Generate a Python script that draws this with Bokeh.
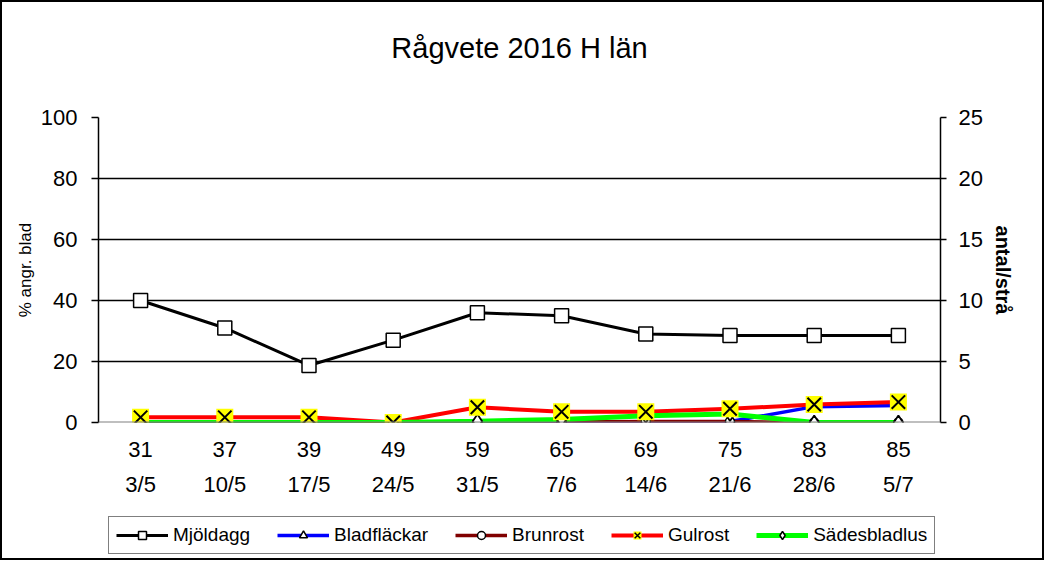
from bokeh.plotting import figure
from bokeh.layouts import column
from bokeh.models import (FactorRange, Range1d, LinearAxis, CategoricalAxis,
                          FixedTicker, Span, Legend, LegendItem, Title)
from bokeh.embed import file_html
from bokeh.resources import INLINE

stages = ["31", "37", "39", "49", "59", "65", "69", "75", "83", "85"]
dates = ["3/5", "10/5", "17/5", "24/5", "31/5", "7/6", "14/6", "21/6", "28/6", "5/7"]
mjoldagg = [40, 31, 18.7, 27, 36, 35, 29, 28.5, 28.5, 28.5]
bladflackar = [0, 0, 0, 0, 0, 0, 0, 0.3, 5.2, 5.6]
brunrost = [0, 0, 0, 0, 0, 0.2, 0.3, 0.3, 0, 0]
gulrost = [1.7, 1.7, 1.7, 0, 5, 3.5, 3.5, 4.5, 5.9, 6.7]
sadesbladlus = [0, 0, 0, 0, 0.1, 0.25, 0.55, 0.7, 0, 0]  # antal/strå (right axis)
series_names = ["Mjöldagg", "Bladfläckar", "Brunrost", "Gulrost", "Sädesbladlus"]
chart_title = "Rågvete 2016 H län"

FONT = "Liberation Sans"
BORDER = "2px solid black"

# title strip (separate figure on top)
pt = figure(width=1044, height=90, x_range=FactorRange(factors=stages),
            y_range=Range1d(0, 1), output_backend="svg", toolbar_location=None,
            min_border_left=0, min_border_right=0, min_border_top=0, min_border_bottom=0,
            outline_line_color=None,
            styles={"border-left": BORDER, "border-top": BORDER, "border-right": BORDER})
pt.title.text = ""
pt.axis.visible = False
pt.grid.visible = False
pt.add_layout(Title(text=chart_title, align="center", text_font=FONT,
                    text_font_size="29px", text_font_style="normal",
                    text_color="black", standoff=54), "above")

p = figure(x_range=FactorRange(factors=stages), y_range=Range1d(0, 100),
           width=1044, height=415, output_backend="svg", toolbar_location=None,
           min_border_left=96, min_border_right=106, min_border_top=27,
           min_border_bottom=83, outline_line_color=None,
           styles={"border-left": BORDER, "border-right": BORDER})
p.extra_y_ranges = {"right": Range1d(0, 25)}
p.extra_x_ranges = {"dates": FactorRange(factors=dates)}
p.title.text = ""

# left axis
ya = p.left[0]
ya.ticker = FixedTicker(ticks=[0, 20, 40, 60, 80, 100])
ya.major_tick_out = 7
ya.major_tick_in = 0
ya.minor_tick_line_color = None
ya.axis_line_width = 1.5
ya.major_tick_line_width = 1.5
ya.major_label_text_font = FONT
ya.major_label_text_font_size = "22px"
ya.major_label_text_color = "black"
ya.major_label_standoff = 14
ya.axis_label = "% angr. blad"
ya.axis_label_text_font = FONT
ya.axis_label_text_font_size = "17px"
ya.axis_label_text_font_style = "normal"
ya.axis_label_text_color = "black"
ya.axis_label_standoff = 3

# right axis
ra = LinearAxis(y_range_name="right", ticker=FixedTicker(ticks=[0, 5, 10, 15, 20, 25]))
ra.major_tick_out = 6
ra.major_tick_in = 0
ra.minor_tick_line_color = None
ra.axis_line_width = 1.5
ra.major_tick_line_width = 1.5
ra.major_label_text_font = FONT
ra.major_label_text_font_size = "22px"
ra.major_label_text_color = "black"
ra.major_label_standoff = 12
ra.axis_label = "antal/strå"
ra.axis_label_text_font = FONT
ra.axis_label_text_font_size = "20px"
ra.axis_label_text_font_style = "bold"
ra.axis_label_text_color = "black"
ra.axis_label_standoff = 6
p.add_layout(ra, "right")

# bottom axes: growth stage and date
xa = p.below[0]
xa.axis_line_color = None
xa.major_tick_line_color = None
xa.major_label_text_font = FONT
xa.major_label_text_font_size = "22px"
xa.major_label_text_color = "black"
xa.major_label_standoff = 13

xa2 = CategoricalAxis(x_range_name="dates")
xa2.axis_line_color = None
xa2.major_tick_line_color = None
xa2.major_label_text_font = FONT
xa2.major_label_text_font_size = "22px"
xa2.major_label_text_color = "black"
xa2.major_label_standoff = 6
p.add_layout(xa2, "below")

# grid
p.xgrid.visible = False
p.ygrid.ticker = FixedTicker(ticks=[20, 40, 60, 80, 100])
p.ygrid.grid_line_color = "black"
p.ygrid.grid_line_width = 1.5
p.add_layout(Span(location=0, dimension="width", line_color="#808080", line_width=2))

# styles per series
line_styles = [dict(line_color="black", line_width=3),
               dict(line_color="#0000FF", line_width=3.5),
               dict(line_color="#800000", line_width=3.5),
               dict(line_color="#FF0000", line_width=4),
               dict(line_color="#00FF00", line_width=5)]

# lines
p.line(stages, mjoldagg, **line_styles[0])
p.line(stages, bladflackar, **line_styles[1])
p.line(stages, brunrost, **line_styles[2])
p.line(stages, gulrost, **line_styles[3])
p.line(stages, sadesbladlus, y_range_name="right", **line_styles[4])

# markers
p.scatter(stages, bladflackar, marker="triangle", size=10, fill_color="white",
          line_color="black", line_width=1.5)
p.scatter(stages, brunrost, marker="circle", size=9, fill_color="white",
          line_color="black", line_width=1.5)
p.scatter(stages, sadesbladlus, marker="diamond", size=14, fill_color="white",
          line_color="black", line_width=1.8, y_range_name="right")
p.scatter(stages, gulrost, marker="square", size=17, fill_color="#FFFF00", line_color=None)
p.scatter(stages, gulrost, marker="x", size=19, line_color="black", line_width=2)
p.scatter(stages, mjoldagg, marker="square", size=14, fill_color="white",
          line_color="black", line_width=1.5)

# legend strip (separate figure below; its data lie outside its visible range)
pl = figure(width=1044, height=55, x_range=FactorRange(factors=stages),
            y_range=Range1d(1000, 1001), output_backend="svg", toolbar_location=None,
            min_border_left=0, min_border_right=0, min_border_top=0, min_border_bottom=0,
            outline_line_color=None,
            styles={"border-left": BORDER, "border-bottom": BORDER, "border-right": BORDER})
pl.title.text = ""
pl.axis.visible = False
pl.grid.visible = False

series_values = [mjoldagg, bladflackar, brunrost, gulrost, sadesbladlus]
marker_styles = [
    [dict(marker="square", size=9, fill_color="white", line_color="black", line_width=1.5)],
    [dict(marker="triangle", size=8, fill_color="white", line_color="black", line_width=1.5)],
    [dict(marker="circle", size=8, fill_color="white", line_color="black", line_width=1.5)],
    [dict(marker="square", size=10, fill_color="#FFFF00", line_color=None),
     dict(marker="x", size=10, line_color="black", line_width=1.5)],
    [dict(marker="diamond", size=10, fill_color="white", line_color="black", line_width=1.5)],
]
items = []
for name, vals, ls, ms in zip(series_names, series_values, line_styles, marker_styles):
    rs = [pl.line(stages, vals, **ls)]
    for m in ms:
        rs.append(pl.scatter(stages, vals, **m))
    items.append(LegendItem(label=name, renderers=rs))

legend = Legend(items=items, orientation="horizontal", location=(10, 6))
legend.border_line_color = "black"
legend.border_line_width = 1.5
legend.label_text_font = FONT
legend.label_text_font_size = "19px"
legend.label_text_color = "black"
legend.glyph_width = 52
legend.glyph_height = 20
legend.spacing = 27
legend.padding = 7
legend.label_standoff = 5
legend.margin = 0
pl.add_layout(legend)

layout = column(pt, p, pl, spacing=0)
open("out.html", "w").write(file_html(layout, INLINE))
